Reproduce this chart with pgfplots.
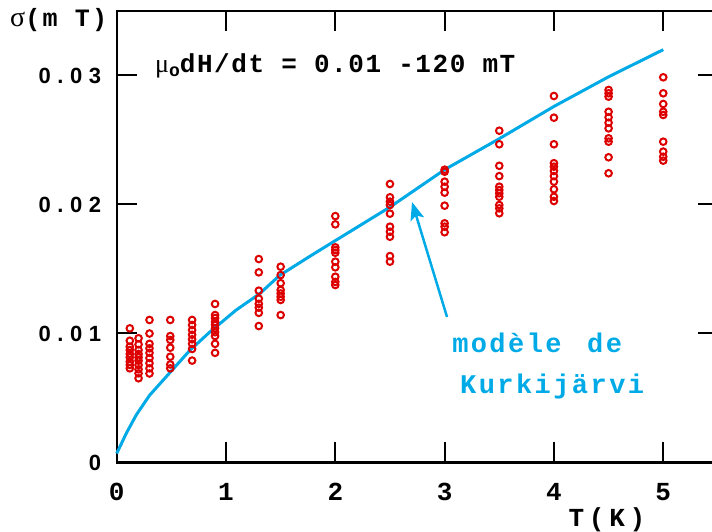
\documentclass[border=0pt]{standalone}
\usepackage{pgfplots}
\pgfplotsset{compat=1.18}
\usepackage{fontspec}
\usetikzlibrary{arrows.meta}
\setmainfont{Liberation Mono}
\newfontfamily\labfont{Liberation Mono}[LetterSpace=6]
\newfontfamily\cyfont{Liberation Mono}[LetterSpace=9]
\newfontfamily\widefont{Liberation Mono}[LetterSpace=18]
\newfontfamily\ytfont{Liberation Sans}[LetterSpace=30]
\newfontfamily\grk{Liberation Serif}
\definecolor{dred}{RGB}{220,0,0}
\definecolor{kcyan}{RGB}{0,170,230}
\begin{document}
\begin{tikzpicture}
\begin{axis}[
  scale only axis, width=601.2pt, height=451.5pt,
  xmin=0, xmax=5.5, ymin=0, ymax=0.035,
  axis line style={line width=2.2pt},
  tick align=inside, major tick length=20pt,
  tick style={line width=2pt, black},
  xtick={0,1,2,3,4,5}, xticklabels={0,1,2,3,4,5},
  ytick={0,0.01,0.02,0.03}, yticklabels={0,0.01,0.02,0.03},
  scaled y ticks=false,
  xticklabel style={font=\labfont\bfseries\fontsize{26}{26}\selectfont, yshift=-17pt},
  yticklabel style={font=\ytfont\bfseries\fontsize{22}{22}\selectfont, xshift=-12pt},
  clip=false,
]
\coordinate (bl) at (rel axis cs:0,0);
\addplot[kcyan, line width=3pt] coordinates {
 (0,0.0007) (0.09,0.0023) (0.18,0.0037) (0.3,0.0052) (0.49,0.0070) (0.67,0.0087)
 (0.85,0.0101) (1.09,0.0118) (1.31,0.0131) (1.49,0.0145) (1.77,0.0160) (2.0,0.0172)
 (2.5,0.0198) (3.0,0.0227) (3.5,0.0251) (4.0,0.0276) (4.5,0.0299) (5.0,0.0320)};
\addplot[only marks, mark=o, mark size=3.3pt, dred, mark options={line width=2pt}] table {
x y
0.12 0.0104
0.12 0.00944
0.12 0.00898
0.12 0.00872
0.12 0.00841
0.12 0.00815
0.12 0.00781
0.12 0.00756
0.12 0.0073
0.2 0.00963
0.2 0.00916
0.2 0.00872
0.2 0.00841
0.2 0.00815
0.2 0.00789
0.2 0.00756
0.2 0.00722
0.2 0.00691
0.2 0.00653
0.3 0.01105
0.3 0.0100
0.3 0.0092
0.3 0.00885
0.3 0.0085
0.3 0.0081
0.3 0.0077
0.3 0.0073
0.3 0.0069
0.49 0.01105
0.49 0.0098
0.49 0.0095
0.49 0.0089
0.49 0.0082
0.49 0.0076
0.49 0.0073
0.69 0.01105
0.69 0.01066
0.69 0.01027
0.69 0.0099
0.69 0.00955
0.69 0.0092
0.69 0.0088
0.69 0.0079
0.9 0.01229
0.9 0.01143
0.9 0.0112
0.9 0.0109
0.9 0.01066
0.9 0.0104
0.9 0.0101
0.9 0.0098
0.9 0.0092
0.9 0.0085
1.3 0.01577
1.3 0.01474
1.3 0.01332
1.3 0.0127
1.3 0.0123
1.3 0.0120
1.3 0.0116
1.3 0.01058
1.5 0.01518
1.5 0.01453
1.5 0.0139
1.5 0.01337
1.5 0.0131
1.5 0.01285
1.5 0.0126
1.5 0.01143
2 0.0191
2 0.01846
2 0.01668
2 0.01647
2 0.01626
2 0.01557
2 0.01513
2 0.0144
2 0.0140
2 0.01376
2.5 0.02159
2.5 0.02056
2.5 0.02022
2.5 0.01996
2.5 0.01929
2.5 0.01828
2.5 0.01789
2.5 0.0175
2.5 0.016
2.5 0.01557
3 0.0227
3 0.02254
3 0.02177
3 0.02138
3 0.02092
3 0.01991
3 0.01854
3 0.01828
3 0.01785
3.5 0.02572
3.5 0.02467
3.5 0.0230
3.5 0.0222
3.5 0.02138
3.5 0.02112
3.5 0.02087
3.5 0.0206
3.5 0.01996
3.5 0.0197
3.5 0.01932
4 0.02841
4 0.02673
4 0.02467
4 0.0232
4 0.02293
4 0.0226
4 0.0222
4 0.02177
4 0.02118
4 0.0206
4 0.02027
4.5 0.02888
4.5 0.02862
4.5 0.02836
4.5 0.02719
4.5 0.02676
4.5 0.02634
4.5 0.0259
4.5 0.02513
4.5 0.02487
4.5 0.02366
4.5 0.02242
5 0.02986
5 0.02862
5 0.02779
5 0.02719
5 0.02694
5 0.02487
5 0.0241
5 0.0237
5 0.0234
};
\draw[kcyan, line width=2.5pt, -{Stealth[length=18pt,width=14pt,inset=4pt]}] (axis cs:3.022,0.01128) -- (axis cs:2.702,0.02019);
\node[anchor=base west, inner sep=0pt, font=\labfont\bfseries\fontsize{26}{26}\selectfont] at (axis cs:0.35,0.03027) {{\grk\mdseries μ}\raisebox{-4pt}{\fontsize{18}{18}\selectfont o}dH/dt = 0.01 -120 mT};
\node[anchor=base west, inner sep=0pt, kcyan, font=\cyfont\bfseries\fontsize{27}{27}\selectfont] at (axis cs:3.068,0.00849) {modèle\hspace{7pt} de};
\node[anchor=base west, inner sep=0pt, kcyan, font=\cyfont\bfseries\fontsize{27}{27}\selectfont] at (axis cs:3.141,0.00531) {Kurkijärvi};
\node[anchor=base west, inner sep=0pt, font=\cyfont\bfseries\fontsize{25}{25}\selectfont] at (axis cs:-0.976,0.03376) {{\grk\mdseries\fontsize{28}{28}\selectfont σ}(m T)};
\node[anchor=base, inner sep=0pt, font=\widefont\bfseries\fontsize{26}{26}\selectfont] at (axis cs:4.485,-0.00500) {T(K)};
\end{axis}
\pgfresetboundingbox
\path[use as bounding box] ([shift={(-116.7pt,-69.5pt)}]bl) rectangle ([shift={(595.3pt,462.5pt)}]bl);
\end{tikzpicture}
\end{document}
